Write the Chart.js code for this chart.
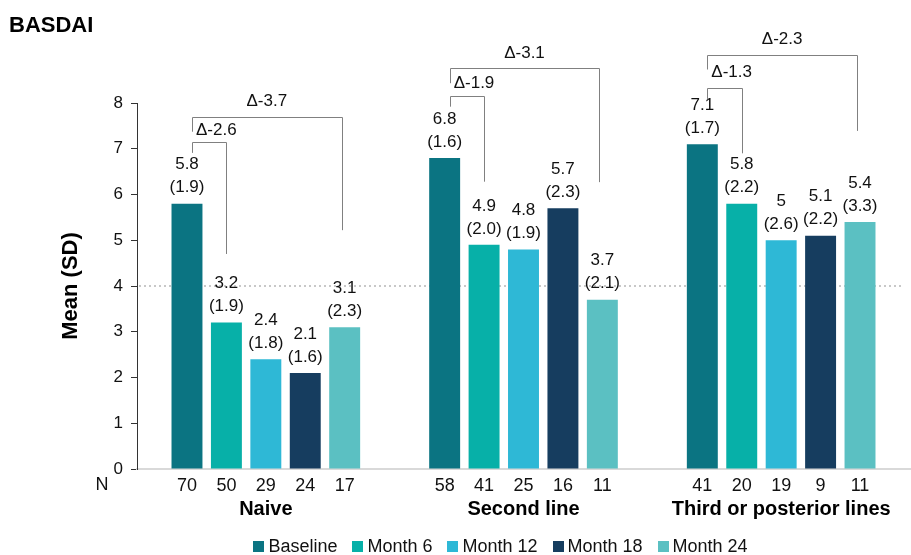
<!DOCTYPE html>
<html>
<head>
<meta charset="utf-8">
<script src="https://cdn.jsdelivr.net/npm/chart.js@4.4.1/dist/chart.umd.min.js"></script>
<style>
html,body{margin:0;padding:0;background:#fff;}
#wrap{width:911px;height:555px;position:relative;}
</style>
</head>
<body>
<div id="wrap"><canvas id="c" width="911" height="555"></canvas></div>
<script>
const groups = ['Naive', 'Second line', 'Third or posterior lines'];
const seriesNames = ['Baseline', 'Month 6', 'Month 12', 'Month 18', 'Month 24'];
const baselineMean = [5.8, 6.8, 7.1];
const month6Mean = [3.2, 4.9, 5.8];
const month12Mean = [2.4, 4.8, 5.0];
const month18Mean = [2.1, 5.7, 5.1];
const month24Mean = [3.1, 3.7, 5.4];
const baselineSD = ['1.9', '1.6', '1.7'];
const month6SD = ['1.9', '2.0', '2.2'];
const month12SD = ['1.8', '1.9', '2.6'];
const month18SD = ['1.6', '2.3', '2.2'];
const month24SD = ['2.3', '2.1', '3.3'];
const baselineN = [70, 58, 41];
const month6N = [50, 41, 20];
const month12N = [29, 25, 19];
const month18N = [24, 16, 9];
const month24N = [17, 11, 11];
const yTicks = [0, 1, 2, 3, 4, 5, 6, 7, 8];
const referenceLine = 4;
// Change vs baseline: short bracket to Month 6, long bracket to Month 24
const deltaMonth6 = ['-2.6', '-1.9', '-1.3'];
const deltaMonth24 = ['-3.7', '-3.1', '-2.3'];
// bracket levels in data units (top of bracket, bottom of right leg)
const shortTop = [7.15, 8.16, 8.33];
const shortEnd = [4.7, 6.28, 6.9];
const longTop = [7.7, 8.76, 9.06];
const longEnd = [5.22, 6.27, 7.39];

const colors = ['#0b7482', '#07b0a8', '#2eb8d6', '#163d5f', '#5bc0c2'];
const means = [baselineMean, month6Mean, month12Mean, month18Mean, month24Mean];
const sds = [baselineSD, month6SD, month12SD, month18SD, month24SD];
const ns = [baselineN, month6N, month12N, month18N, month24N];

const FONT = "'Liberation Sans', Arial, sans-serif";

const overlay = {
  id: 'overlay',
  beforeDatasetsDraw(chart) {
    const ctx = chart.ctx, y = chart.scales.y, a = chart.chartArea;
    const py = y.getPixelForValue(referenceLine);
    ctx.save();
    ctx.strokeStyle = '#c8c8c8';
    ctx.lineWidth = 2;
    ctx.setLineDash([2, 3]);
    ctx.beginPath();
    ctx.moveTo(a.left + 2, py);
    ctx.lineTo(a.right - 6, py);
    ctx.stroke();
    ctx.restore();
  },
  afterDatasetsDraw(chart) {
    const ctx = chart.ctx, y = chart.scales.y, a = chart.chartArea;
    ctx.save();
    ctx.fillStyle = '#111';
    ctx.textAlign = 'center';
    ctx.textBaseline = 'middle';
    chart.data.datasets.forEach((ds, i) => {
      const meta = chart.getDatasetMeta(i);
      meta.data.forEach((bar, j) => {
        const top = bar.y;
        ctx.font = '17px ' + FONT;
        ctx.fillText('(' + sds[i][j] + ')', bar.x, top - 16);
        ctx.fillText(String(ds.data[j]), bar.x, top - 39);
        ctx.font = '18px ' + FONT;
        ctx.fillText(String(ns[i][j]), bar.x, a.bottom + 17);
      });
    });
    ctx.font = '18px ' + FONT;
    ctx.fillText('N', 102, a.bottom + 16);
    // brackets
    ctx.strokeStyle = '#808080';
    ctx.lineWidth = 1;
    const m0 = chart.getDatasetMeta(0), m1 = chart.getDatasetMeta(1), m4 = chart.getDatasetMeta(4);
    for (let j = 0; j < groups.length; j++) {
      const lx = m0.data[j].x + 5;
      const r1 = m1.data[j].x;
      const r4 = m4.data[j].x - 3;
      const sT = y.getPixelForValue(shortTop[j]);
      const sE = y.getPixelForValue(shortEnd[j]);
      const lT = y.getPixelForValue(longTop[j]);
      const lE = y.getPixelForValue(longEnd[j]);
      ctx.beginPath();
      ctx.moveTo(Math.round(lx) + 0.5, sT + 11);
      ctx.lineTo(Math.round(lx) + 0.5, Math.round(sT) + 0.5);
      ctx.lineTo(Math.round(r1) + 0.5, Math.round(sT) + 0.5);
      ctx.lineTo(Math.round(r1) + 0.5, sE);
      ctx.stroke();
      ctx.beginPath();
      ctx.moveTo(Math.round(lx) + 0.5, lT + 15);
      ctx.lineTo(Math.round(lx) + 0.5, Math.round(lT) + 0.5);
      ctx.lineTo(Math.round(r4) + 0.5, Math.round(lT) + 0.5);
      ctx.lineTo(Math.round(r4) + 0.5, lE);
      ctx.stroke();
      ctx.font = '17px ' + FONT;
      ctx.textAlign = 'left';
      ctx.fillText('\u0394' + deltaMonth6[j], lx + 4, (sT + lT) / 2 + 1);
      ctx.textAlign = 'center';
      ctx.fillText('\u0394' + deltaMonth24[j], (lx + r4) / 2, lT - 15);
    }
    ctx.restore();
  },
  afterDraw(chart) {
    const ctx = chart.ctx;
    ctx.save();
    ctx.fillStyle = '#000';
    ctx.font = 'bold 22px ' + FONT;
    ctx.textAlign = 'left';
    ctx.textBaseline = 'middle';
    ctx.fillText('BASDAI', 9, 26);
    // legend
    ctx.font = '18px ' + FONT;
    const box = 11, gapText = 4, gapItem = 15;
    const widths = seriesNames.map(s => box + gapText + ctx.measureText(s).width);
    const total = widths.reduce((p, c) => p + c, 0) + gapItem * (seriesNames.length - 1);
    let x = (chart.chartArea.left + chart.chartArea.right) / 2 - 23 - total / 2;
    const ly = 547;
    seriesNames.forEach((s, i) => {
      ctx.fillStyle = colors[i];
      ctx.fillRect(Math.round(x), ly - 6, box, box);
      ctx.fillStyle = '#111';
      ctx.fillText(s, x + box + gapText, ly);
      x += widths[i] + gapItem;
    });
    ctx.restore();
  }
};

new Chart(document.getElementById('c'), {
  type: 'bar',
  data: {
    labels: groups,
    datasets: seriesNames.map((name, i) => ({
      label: name,
      data: means[i],
      backgroundColor: colors[i],
      borderWidth: 0,
      categoryPercentage: 0.765,
      barPercentage: 0.785
    }))
  },
  options: {
    responsive: false,
    animation: false,
    devicePixelRatio: 1,
    layout: { padding: { top: 103, left: 46, right: 1, bottom: 30 } },
    plugins: {
      tooltip: { enabled: false },
      title: { display: false },
      legend: { display: false }
    },
    scales: {
      x: {
        grid: { display: false, drawTicks: false },
        border: { display: true, color: '#d9d9d9', width: 2 },
        ticks: { color: '#000', font: { family: FONT, size: 20, weight: 'bold' }, padding: 28, maxRotation: 0, autoSkip: false },
        afterFit(s) { s.height = 56; s.paddingLeft = 0; s.paddingRight = 0; }
      },
      y: {
        min: 0, max: 8,
        afterBuildTicks(s) { s.ticks = yTicks.map(v => ({ value: v })); },
        grid: { display: true, drawOnChartArea: false, drawTicks: true, tickLength: 6, color: '#333' },
        border: { display: true, color: '#333', width: 1 },
        ticks: { color: '#111', font: { family: FONT, size: 17 }, padding: 8 },
        title: { display: true, text: 'Mean (SD)', color: '#000', font: { family: FONT, size: 22, weight: 'bold' }, padding: { top: 12, bottom: 0 } },
        afterFit(s) { s.width = 91; s.paddingTop = 0; s.paddingBottom = 0; }
      }
    }
  },
  plugins: [overlay]
});
</script>
</body>
</html>
